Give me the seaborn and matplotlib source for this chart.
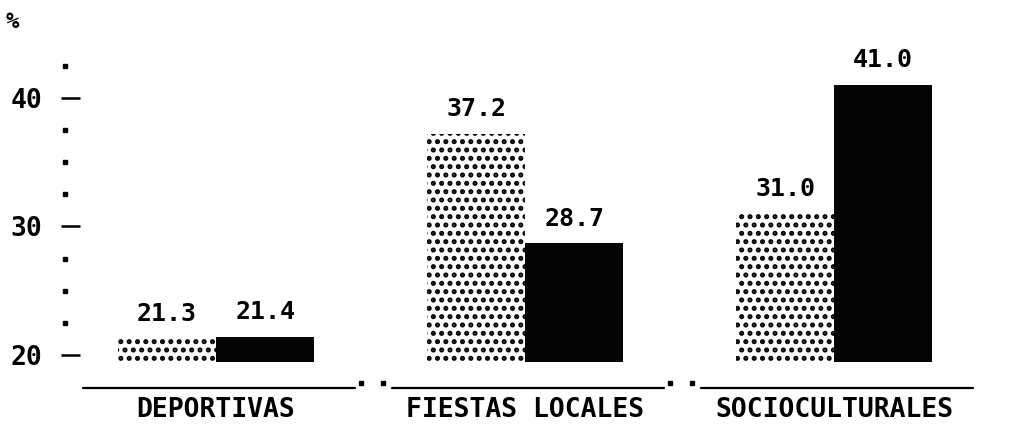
import pandas as pd
import numpy as np
import matplotlib
matplotlib.use("Agg")
import matplotlib.pyplot as plt
import seaborn as sns

# Datos del grafico (porcentajes)
categorias = ["DEPORTIVAS", "FIESTAS LOCALES", "SOCIOCULTURALES"]
serie_punteada = [21.3, 37.2, 31.0]
serie_negra = [21.4, 28.7, 41.0]
series = ["Serie 1", "Serie 2"]
ticks_y = [20, 30, 40]
puntos_y = [22.5, 25, 27.5, 32.5, 35, 37.5, 42.5]

df = pd.DataFrame({
    "Categoria": categorias * 2,
    "Serie": [series[0]] * 3 + [series[1]] * 3,
    "Porcentaje": serie_punteada + serie_negra,
})

sns.set_style("white")
plt.rcParams["font.family"] = ["DejaVu Sans Mono", "DejaVu Sans"]
plt.rcParams["font.weight"] = "bold"
plt.rcParams["text.color"] = "black"
plt.rcParams["xtick.color"] = "black"
plt.rcParams["ytick.color"] = "black"
plt.rcParams["hatch.linewidth"] = 2.4
plt.rcParams["hatch.color"] = "black"

fig = plt.figure(figsize=(10.11, 4.24), dpi=100)
W, H = 1011, 424
ax = fig.add_axes([61 / W, 1 - 362 / H, (1000 - 61) / W, (362 - 40) / H])

sns.barplot(data=df, x="Categoria", y="Porcentaje", hue="Serie",
            palette=["white", "black"], width=0.635, legend=False, ax=ax)

# punteado en la primera serie, negro solido en la segunda
for bar in ax.containers[0]:
    bar.set_facecolor("white")
    bar.set_edgecolor("black")
    bar.set_hatch("..")
    bar.set_linewidth(0)
for bar in ax.containers[1]:
    bar.set_facecolor("#050505")
    bar.set_linewidth(0)

for cont in ax.containers:
    ax.bar_label(cont, fmt="%.1f", padding=9, fontsize=18, color="black",
                 fontweight="bold", family="DejaVu Sans Mono")

ax.set_xlim(-0.502, 2.537)
ax.set_ylim(19.45, 44.5)
sns.despine(ax=ax, left=True, bottom=True)

ax.set_yticks(ticks_y)
ax.set_yticklabels([str(t) for t in ticks_y], fontsize=19, fontweight="bold")
ax.tick_params(axis="y", left=True, direction="in", length=13.5, width=1.8,
               pad=13.5, colors="black")
ax.tick_params(axis="x", length=0, pad=25, labelsize=19, labelcolor="black")
ax.set_xlabel("")
ax.set_ylabel("")

# eje vertical punteado
ax.plot([-0.489] * len(puntos_y), puntos_y, ls="none", marker="s",
        ms=3.5, color="black", clip_on=False)

# lineas base por categoria con dos puntos entre ellas
trans = ax.get_xaxis_transform()
for i in range(len(categorias)):
    ax.plot([i - 0.43, i + 0.45], [-0.081, -0.081], color="black", lw=1.6,
            transform=trans, clip_on=False)
    if i < len(categorias) - 1:
        ax.plot([i + 0.47, i + 0.54], [-0.066, -0.066], ls="none", marker="s",
                ms=3.5, color="black", transform=trans, clip_on=False)

fig.text(12 / W, 1 - 22 / H, "%", fontsize=16, fontweight="bold",
         ha="center", va="center")

fig.savefig("out.png", dpi=100)
